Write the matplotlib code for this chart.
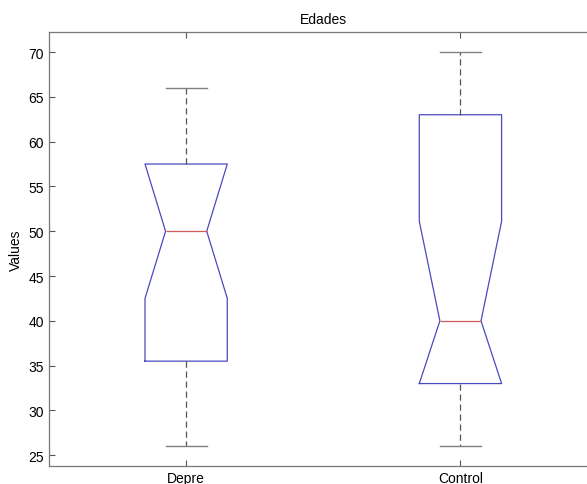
import matplotlib.pyplot as plt

plt.rcParams['font.family'] = ['Liberation Sans', 'DejaVu Sans']

groups = ["Depre", "Control"]
whisker_lo = [26, 26]
q1 = [35.5, 33]
median = [50, 40]
q3 = [57.5, 63]
whisker_hi = [66, 70]
notch_lo = [42.5, 33]
notch_hi = [57.5, 51.1]

stats = []
for i, name in enumerate(groups):
    stats.append(dict(label=name, whislo=whisker_lo[i], q1=q1[i], med=median[i],
                      q3=q3[i], whishi=whisker_hi[i], cilo=notch_lo[i],
                      cihi=notch_hi[i], fliers=[]))

fig = plt.figure(figsize=(5.87, 4.85), dpi=100)
# axes runs a little past the right edge, like the cropped original
ax = fig.add_axes([49 / 587, 1 - 467 / 485, (597.6 - 49) / 587, (467 - 33.3) / 485])

ax.bxp(stats, positions=[1, 2], widths=0.3, shownotches=True, showfliers=False,
       boxprops=dict(color="#4a4ac0", linewidth=0.9),
       medianprops=dict(color="#d05a5a", linewidth=0.9),
       whiskerprops=dict(color="#555555", linewidth=0.9, linestyle=(0, (5, 3))),
       capprops=dict(color="#808080", linewidth=1.0))

ax.set_xlim(0.5, 2.5)
ax.set_ylim(23.8, 72.2)
ax.set_yticks(range(25, 75, 5))
ax.set_title("Edades", fontsize=10, pad=7)
ax.set_ylabel("Values", fontsize=10, labelpad=4)
ax.tick_params(direction="in", top=True, right=True, length=4, labelsize=10,
               color="#555555")
for s in ax.spines.values():
    s.set_color("#777777")
    s.set_linewidth(0.9)

fig.savefig("out.png", dpi=100)
